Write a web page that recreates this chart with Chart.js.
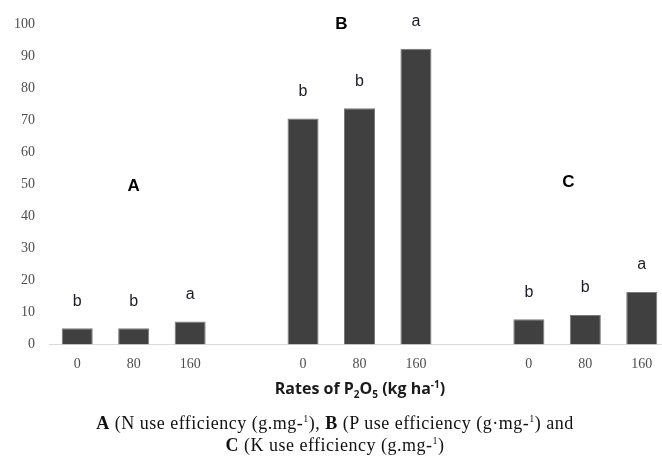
<!DOCTYPE html>
<html>
<head>
<meta charset="utf-8">
<script src="https://cdn.jsdelivr.net/npm/chart.js@4"></script>
<style>
    html, body { margin: 0; padding: 0; background: #fff; overflow: hidden; }
    #wrap { position: relative; width: 662px; height: 456px; overflow: hidden; }
    #chart { position: absolute; left: 0; top: 0; }
    #axisTitle {
        position: absolute; left: 0; width: 720px; top: 377px; text-align: center;
        font-family: "Open Sans", sans-serif; font-weight: 700; font-size: 16px; color: #1a1a1a;
    }
    #axisTitle sub, #axisTitle sup { font-size: 10px; line-height: 0; }
    #caption {
        position: absolute; left: 0; width: 670px; top: 412px; text-align: center;
        font-family: "Liberation Serif", serif; font-size: 18px; line-height: 22px;
        letter-spacing: 0.5px; color: #111;
    }
    #caption sup { font-size: 10px; line-height: 0; }
</style>
</head>
<body>
<div id="wrap">
    <canvas id="chart" width="672" height="400"></canvas>
    <div id="axisTitle">Rates of P<sub>2</sub>O<sub>5</sub> (kg ha<sup>-1</sup>)</div>
    <div id="caption">
        <b>A</b> (N use efficiency (g.mg-<sup>1</sup>), <b>B</b> (P use efficiency (g·mg-<sup>1</sup>) and<br>
        <b>C</b> (K use efficiency (g.mg-<sup>1</sup>)
    </div>
</div>
<script>
// rates of P2O5, one empty slot between the three groups
const rates = ['0', '80', '160', '', '0', '80', '160', '', '0', '80', '160'];
const efficiency = [5.1, 5.1, 7.2, null, 70.5, 73.7, 92.3, null, 7.9, 9.2, 16.4];
const letters = ['b', 'b', 'a', '', 'b', 'b', 'a', '', 'b', 'b', 'a'];
const groupNames = ['A', 'B', 'C'];
const yTicks = [0, 10, 20, 30, 40, 50, 60, 70, 80, 90, 100];

// letters above bars + group names
const labelPlugin = {
    id: 'labels',
    afterDatasetsDraw(chart) {
        const ctx = chart.ctx;
        const meta = chart.getDatasetMeta(0);
        const x = chart.scales.x;
        const y = chart.scales.y;
        ctx.save();
        ctx.textAlign = 'center';
        ctx.textBaseline = 'middle';
        ctx.fillStyle = '#1c1c2a';
        ctx.font = '16px "Liberation Sans", Arial, sans-serif';
        meta.data.forEach((bar, i) => {
            if (!letters[i]) return;
            ctx.fillText(letters[i], bar.x, bar.y - 27);
        });

        // group names sit roughly over the middle of each group
        ctx.fillStyle = '#000';
        ctx.font = 'bold 17px "Liberation Sans", Arial, sans-serif';
        const spots = [
            { idx: 1, shift: 0, val: 49.5 },
            { idx: 4, shift: 0.68, val: 100 },
            { idx: 8, shift: 0.7, val: 50.6 }
        ];
        spots.forEach((s, g) => {
            const px = x.getPixelForValue(s.idx) + s.shift * (x.getPixelForValue(1) - x.getPixelForValue(0));
            ctx.fillText(groupNames[g], px, y.getPixelForValue(s.val));
        });
        ctx.restore();
    }
};

new Chart(document.getElementById('chart'), {
    type: 'bar',
    data: {
        labels: rates,
        datasets: [{
            data: efficiency,
            backgroundColor: '#404040',
            borderColor: '#7a7a7a',
            borderWidth: 1,
            barPercentage: 0.55,
            categoryPercentage: 1
        }]
    },
    options: {
        responsive: false,
        animation: false,
        layout: { padding: { top: 24, right: 2, left: 0, bottom: 0 } },
        plugins: {
            legend: { display: false },
            tooltip: { enabled: false }
        },
        scales: {
            x: {
                grid: { display: false },
                border: { display: true, color: '#d9d9d9', width: 1 },
                ticks: {
                    color: '#4d4d4d',
                    font: { family: '"Liberation Serif", serif', size: 14 },
                    padding: 3,
                    maxRotation: 0,
                    autoSkip: false
                },
                afterFit(scale) { scale.height = 55.5; }
            },
            y: {
                min: 0,
                max: 100,
                grid: { display: false },
                border: { display: false },
                afterBuildTicks(scale) { scale.ticks = yTicks.map(v => ({ value: v })); },
                ticks: {
                    color: '#4d4d4d',
                    font: { family: '"Liberation Serif", serif', size: 14 },
                    padding: 6
                },
                afterFit(scale) { scale.width = 49; }
            }
        }
    },
    plugins: [labelPlugin]
});
</script>
</body>
</html>
